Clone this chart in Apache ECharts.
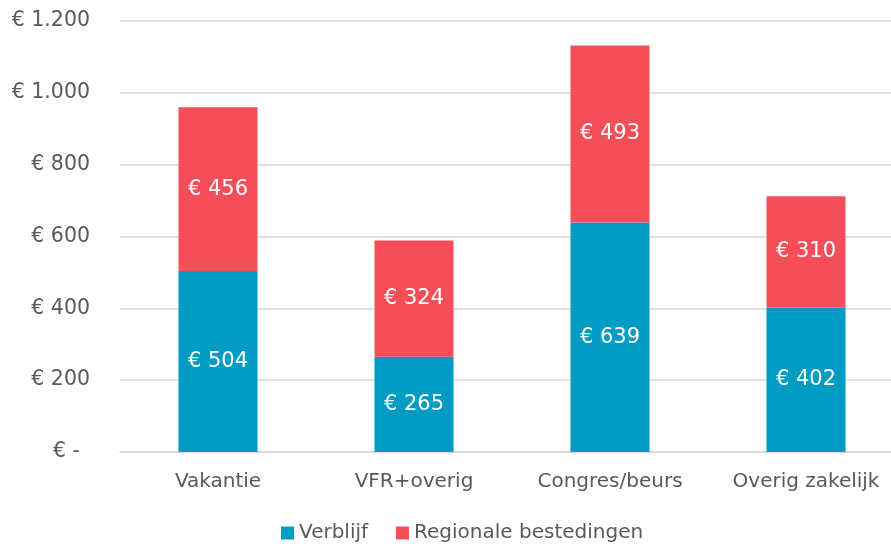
<!DOCTYPE html>
<html><head><meta charset="utf-8">
<script src="https://cdn.jsdelivr.net/npm/echarts@6/dist/echarts.min.js"></script>
<style>html,body{margin:0;padding:0;background:#fff}#c{width:891px;height:544px}</style>
</head><body><div id="c"></div>
<script>
const categories = ["Vakantie", "VFR+overig", "Congres/beurs", "Overig zakelijk"];
const verblijf = [504, 265, 639, 402];
const regionale = [456, 324, 493, 310];
const seriesNames = ["Verblijf", "Regionale bestedingen"];
const yTicks = [0, 200, 400, 600, 800, 1000, 1200];

function fmtEuro(v){
  if (v === 0) return "€ -";
  return "€ " + String(v).replace(/\B(?=(\d{3})+(?!\d))/g, ".");
}
const font = "'DejaVu Sans',sans-serif";
const chart = echarts.init(document.getElementById('c'), null, {renderer:'canvas'});
chart.setOption({
  animation:false,
  textStyle:{fontFamily:font},
  grid:{left:120, width:784, top:21, bottom:92, containLabel:false, outerBoundsMode:'none'},
  legend:{
    top:518, left:276, itemWidth:13, itemHeight:13, icon:'rect', itemGap:28,
    textStyle:{fontSize:20, color:'#595959', fontFamily:font},
    data:seriesNames
  },
  xAxis:{
    type:'category', data:categories,
    axisLine:{lineStyle:{color:'#d9d9d9', width:1.5}},
    axisTick:{show:false},
    axisLabel:{fontSize:20, color:'#595959', margin:20, fontFamily:font}
  },
  yAxis:{
    type:'value', min:yTicks[0], max:yTicks[yTicks.length-1], interval:200,
    axisLine:{show:false}, axisTick:{show:false},
    splitLine:{lineStyle:{color:'#d9d9d9', width:1.5}},
    axisLabel:{fontSize:20.5, color:'#595959', margin:30, fontFamily:font,
      formatter:v => v === 0 ? '{z|' + fmtEuro(v) + '}' : fmtEuro(v),
      rich:{z:{fontSize:20.5, color:'#595959', fontFamily:font, padding:[0,10,0,0]}}}
  },
  series:[
    {name:seriesNames[0], type:'bar', stack:'a', data:verblijf, barWidth:79,
     itemStyle:{color:'#009cc4'},
     label:{show:true, position:'inside', color:'#fff', fontSize:21, fontFamily:font, formatter:p=>fmtEuro(p.value)}},
    {name:seriesNames[1], type:'bar', stack:'a', data:regionale, barWidth:79,
     itemStyle:{color:'#f64e58'},
     label:{show:true, position:'inside', color:'#fff', fontSize:21, fontFamily:font, formatter:p=>fmtEuro(p.value)}}
  ]
});
</script></body></html>
